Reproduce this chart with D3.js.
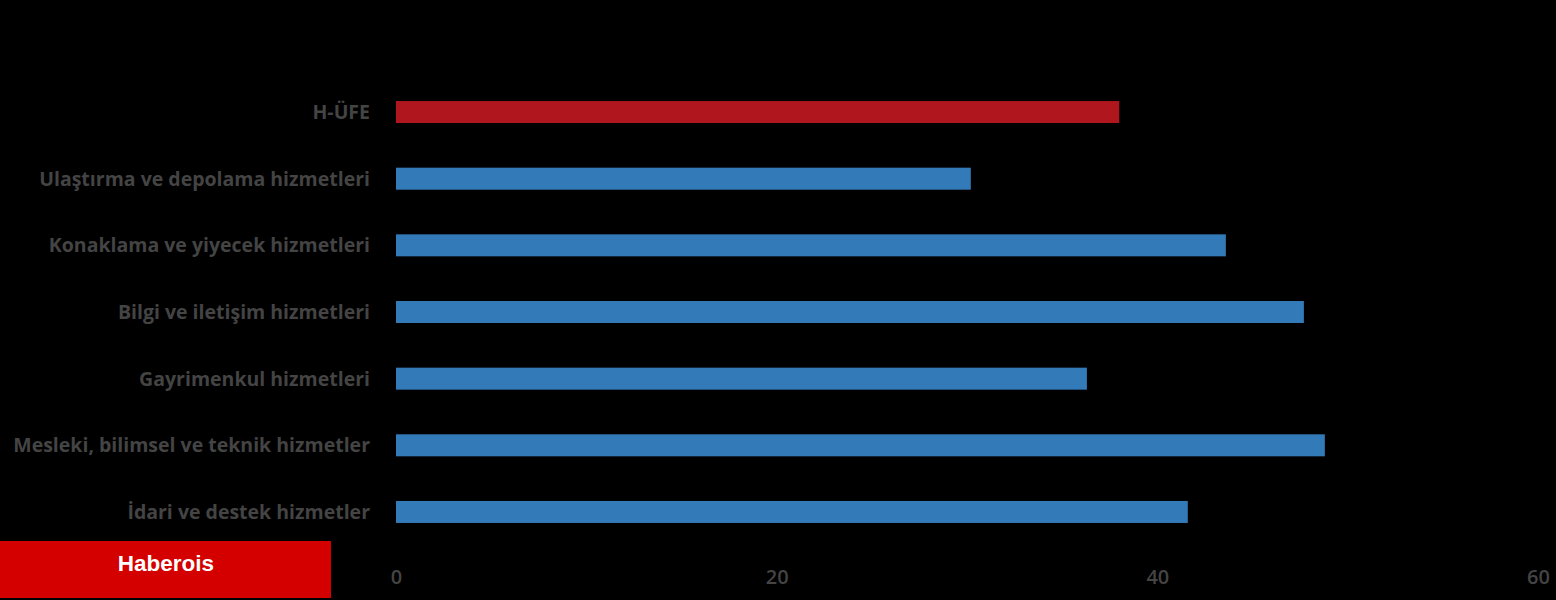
<!DOCTYPE html>
<html><head><meta charset="utf-8">
<script src="https://cdn.jsdelivr.net/npm/d3@7"></script>
<style>html,body{margin:0;padding:0;background:#000;}svg{display:block;}</style>
</head><body>
<svg id="chart" width="1556" height="600"></svg>
<script>
const categories = ["H-ÜFE","Ulaştırma ve depolama hizmetleri","Konaklama ve yiyecek hizmetleri","Bilgi ve iletişim hizmetleri","Gayrimenkul hizmetleri","Mesleki, bilimsel ve teknik hizmetler","İdari ve destek hizmetler"];
const values = [38.0, 30.2, 43.6, 47.7, 36.3, 48.8, 41.6];
const tickValues = [0, 20, 40, 60];

const svg = d3.select("#chart");
svg.append("rect").attr("width",1556).attr("height",600).attr("fill","#000");

const x = d3.scaleLinear().domain([0,60]).range([396,1538]);
const y = d3.scaleBand().domain(categories).range([78.7,545.3]).paddingInner(0.67).paddingOuter(0.335);

svg.selectAll("rect.bar").data(categories).join("rect")
  .attr("class","bar")
  .attr("x", x(0))
  .attr("y", d=>y(d))
  .attr("width", (d,i)=>x(values[i])-x(0))
  .attr("height", y.bandwidth())
  .attr("fill", (d,i)=> i===0 ? "#b0161d" : "#337ab9");

const yAxis = svg.append("g").attr("transform",`translate(${x(0)-26},0)`)
  .call(d3.axisLeft(y).tickSize(0).tickPadding(0));
yAxis.select(".domain").remove();
yAxis.selectAll("text").attr("fill","#444").attr("font-family","'Open Sans', sans-serif")
  .attr("font-weight","bold").attr("font-size","19.5px").attr("dy","0.36em");

const xAxis = svg.append("g").attr("transform","translate(0,570)")
  .call(d3.axisBottom(x).tickValues(tickValues).tickSize(0).tickPadding(0));
xAxis.select(".domain").remove();
xAxis.selectAll("text").attr("fill","#444").attr("font-family","'Open Sans', sans-serif")
  .attr("font-weight","600").attr("font-size","20px").attr("dy","0.72em");

svg.append("rect").attr("x",0).attr("y",541).attr("width",331).attr("height",57).attr("fill","#d40000");
svg.append("text").attr("x",166).attr("y",565).attr("text-anchor","middle").attr("dominant-baseline","middle")
  .attr("fill","#fff").attr("font-family","'Liberation Sans', Arial, sans-serif").attr("font-weight","bold")
  .attr("font-size","22.5px").text("Haberois");
</script>
</body></html>
